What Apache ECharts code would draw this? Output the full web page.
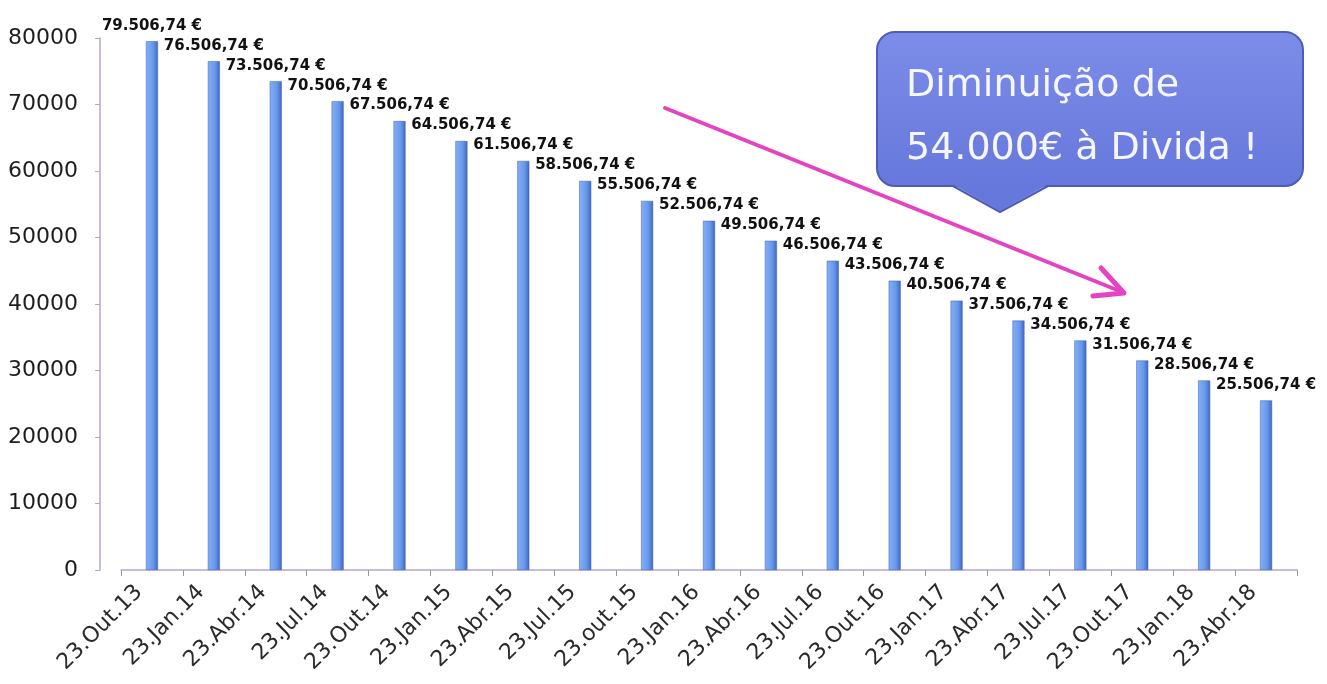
<!DOCTYPE html>
<html>
<head>
<meta charset="utf-8">
<title>Divida</title>
<script src="https://cdn.jsdelivr.net/npm/echarts@6/dist/echarts.min.js"></script>
<style>
  html, body { margin: 0; padding: 0; background: #fff; }
  #main { width: 1327px; height: 684px; }
</style>
</head>
<body>
<div id="main"></div>
<script>
// datas das prestações
const dateList = ['23.Out.13', '23.Jan.14', '23.Abr.14', '23.Jul.14', '23.Out.14', '23.Jan.15', '23.Abr.15',
  '23.Jul.15', '23.out.15', '23.Jan.16', '23.Abr.16', '23.Jul.16', '23.Out.16', '23.Jan.17', '23.Abr.17',
  '23.Jul.17', '23.Out.17', '23.Jan.18', '23.Abr.18']
// valor em divida em cada data
const debtValues = [79506.74, 76506.74, 73506.74, 70506.74, 67506.74, 64506.74, 61506.74, 58506.74,
  55506.74, 52506.74, 49506.74, 46506.74, 43506.74, 40506.74, 37506.74, 34506.74, 31506.74,
  28506.74, 25506.74]
const yTicks = [0, 10000, 20000, 30000, 40000, 50000, 60000, 70000, 80000]
const noteLines = ['Diminuição de', '54.000€ à Divida !']

let chart = null

// 79506.74 -> "79.506,74 €"
function formatEuro(v) {
  let parts = v.toFixed(2).split('.')
  let int = parts[0].replace(/\B(?=(\d{3})+(?!\d))/g, '.')
  return int + ',' + parts[1] + ' €'
}

function getOption() {
  return {
    animation: false,
    grid: {
      left: 121,
      right: 30,
      top: 38,
      bottom: 114
    },
    xAxis: {
      type: 'category',
      data: dateList,
      axisLine: { lineStyle: { color: '#b7a3d9', width: 1.5 } },
      axisTick: { show: true, length: 6, lineStyle: { color: '#999' } },
      axisLabel: {
        rotate: 45,
        margin: 6,
        padding: [0, 18, 0, 0],
        fontFamily: 'DejaVu Sans',
        fontSize: 22,
        color: '#2a2a2a'
      }
    },
    yAxis: {
      type: 'value',
      min: yTicks[0],
      max: yTicks[yTicks.length - 1],
      interval: yTicks[1] - yTicks[0],
      offset: 21,
      axisLine: { show: true, lineStyle: { color: '#b7a3d9', width: 1.5 } },
      axisTick: { show: true, length: 5, lineStyle: { color: '#b7a3d9' } },
      splitLine: { show: false },
      axisLabel: {
        margin: 22,
        fontFamily: 'DejaVu Sans',
        fontSize: 22,
        color: '#1e1e1e',
        formatter: v => String(v)
      }
    },
    series: [
      {
        type: 'bar',
        data: debtValues,
        barWidth: 12,
        itemStyle: {
          color: new echarts.graphic.LinearGradient(0, 0, 1, 0, [
            { offset: 0, color: '#84b0f5' },
            { offset: 0.6, color: '#6898ea' },
            { offset: 1, color: '#3f66c4' }
          ]),
          borderColor: '#3a5cb8',
          borderWidth: 0.5
        },
        label: {
          show: true,
          position: 'top',
          distance: 8,
          fontFamily: 'DejaVu Sans',
          fontWeight: 'bold',
          fontSize: 15,
          color: '#111',
          formatter: p => formatEuro(p.value)
        }
      }
    ],
    graphic: [
      // balão com o texto
      {
        type: 'rect',
        z: 10,
        shape: { x: 877, y: 32, width: 426, height: 154, r: 18 },
        style: {
          fill: new echarts.graphic.LinearGradient(0, 0, 0, 1, [
            { offset: 0, color: '#7d8ce8' },
            { offset: 1, color: '#6678dc' }
          ]),
          stroke: '#4d5cb6',
          lineWidth: 2
        }
      },
      {
        type: 'polygon',
        z: 11,
        shape: { points: [[952, 184], [1000, 211], [1049, 184]] },
        style: { fill: '#6678dc' }
      },
      {
        type: 'polyline',
        z: 11,
        shape: { points: [[953, 186], [1000, 212], [1048, 186]] },
        style: { stroke: '#4d5cb6', lineWidth: 2, fill: null }
      },
      {
        type: 'text',
        z: 12,
        left: 906,
        top: 55,
        style: {
          text: noteLines.join('\n'),
          fontFamily: 'DejaVu Sans',
          fontSize: 38,
          lineHeight: 63,
          fill: '#f6f6ff'
        }
      },
      // seta cor-de-rosa
      {
        type: 'line',
        z: 10,
        shape: { x1: 665, y1: 108, x2: 1122, y2: 292 },
        style: { stroke: '#e443c1', lineWidth: 4, lineCap: 'round' }
      },
      {
        type: 'polyline',
        z: 10,
        shape: { points: [[1101, 268], [1124, 293], [1093, 296]] },
        style: { stroke: '#e443c1', lineWidth: 5, lineCap: 'round', lineJoin: 'round', fill: null }
      }
    ]
  }
}

chart = echarts.init(document.getElementById('main'))
chart.setOption(getOption())
</script>
</body>
</html>
